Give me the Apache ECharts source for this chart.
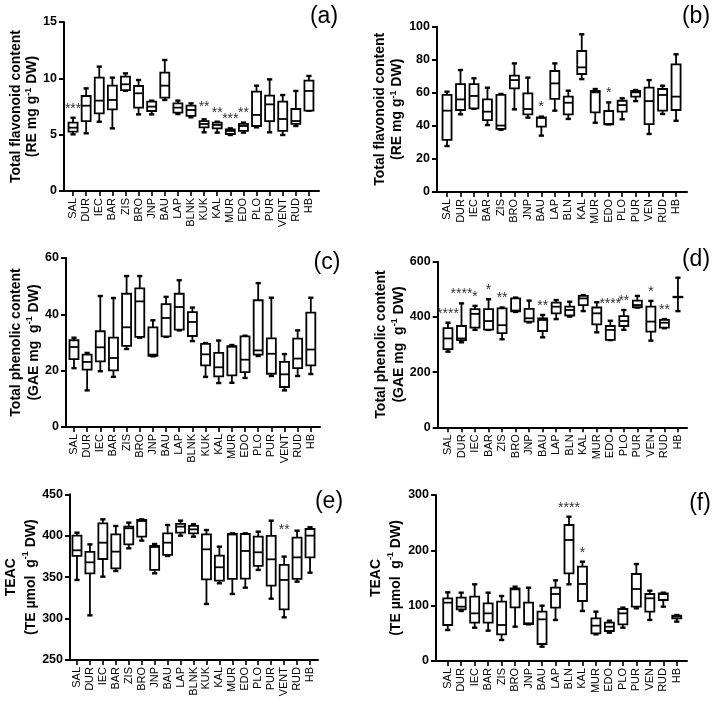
<!DOCTYPE html>
<html>
<head>
<meta charset="utf-8">
<script src="https://cdn.jsdelivr.net/npm/echarts@6/dist/echarts.min.js"></script>
<style>html,body{margin:0;padding:0;background:#fff}#c{width:717px;height:702px}</style>
</head>
<body>
<div id="c"></div>
<script>
// ---------- categories ----------
const catsLong = ['SAL','DUR','IEC','BAR','ZIS','BRO','JNP','BAU','LAP','BLNK','KUK','KAL','MUR','EDO','PLO','PUR','VENT','RUD','HB'];
const catsShort = ['SAL','DUR','IEC','BAR','ZIS','BRO','JNP','BAU','LAP','BLN','KAL','MUR','EDO','PLO','PUR','VEN','RUD','HB'];

// ---------- box values: [min, Q1, median, Q3, max] ----------
const boxA = [
  [5.03,5.27,5.62,6.07,6.5],[5.12,6.21,7.57,8.43,9.11],[6.15,6.89,8.02,10.06,11.04],[5.56,7.25,8.08,9.35,10.06],
  [8.9,8.96,9.47,10.15,10.44],[6.8,7.4,8.67,9.32,9.85],[6.8,7.1,7.49,7.93,8.02],[8.08,8.28,9.35,10.5,11.63],
  [6.83,6.95,7.4,7.78,8.02],[6.54,6.66,7.19,7.57,7.78],[5.21,5.65,5.95,6.21,6.36],[5.18,5.56,5.86,6.07,6.15],
  [4.97,5.06,5.33,5.47,5.56],[5.18,5.33,5.77,5.95,6.07],[5.65,5.77,6.75,8.82,9.35],[5.21,6.21,7.69,8.46,9.91],
  [4.97,5.33,6.39,7.93,8.52],[5.77,5.95,6.21,7.28,8.88],[7.13,7.13,8.88,9.79,10.21]
];
const sigA = ['***','','','','','','','','','','**','**','***','**','','','','',''];

const boxB = [
  [27.8,31.5,49.2,58.7,60.7],[47.0,49.6,56.0,65.3,73.8],[50.3,50.6,58.1,65.3,68.8],[40.5,43.5,48.6,56.0,63.1],
  [37.6,38.2,40.2,58.7,59.3],[50.0,62.7,67.7,70.4,77.8],[45.0,47.0,50.2,59.7,69.2],[34.1,39.5,44.8,45.2,45.6],
  [49.2,56.3,65.7,73.2,77.8],[44.2,47.0,54.0,57.7,61.3],[68.3,71.4,75.4,85.3,95.4],[41.9,48.2,60.3,61.1,62.3],
  [40.9,41.0,41.2,49.0,54.2],[44.0,48.6,52.6,55.2,56.7],[55.0,57.7,60.3,61.1,61.7],[35.1,41.1,55.0,63.1,67.7],
  [47.2,49.2,58.7,62.3,64.3],[43.1,49.6,57.7,77.2,83.3]
];
const sigB = ['','','','','','','','*','','','','','*','','','','',''];

const boxC = [
  [20.9,24.1,28.4,30.8,31.7],[13.0,20.4,23.1,25.7,26.3],[19.8,23.3,28.3,34.0,46.5],[17.8,20.1,24.5,31.7,45.8],
  [27.7,28.8,35.4,47.3,53.6],[31.7,32.0,44.6,49.2,53.6],[25.1,25.3,25.7,35.4,37.9],[32.0,32.2,38.7,43.6,46.2],
  [34.3,34.6,42.6,47.3,52.1],[30.5,32.3,37.3,40.8,42.4],[17.8,21.9,25.8,29.5,29.8],[15.6,18.0,21.2,26.3,30.7],
  [15.7,18.3,28.5,28.7,29.1],[17.4,19.5,23.9,32.2,32.4],[25.2,25.7,27.2,45.0,51.1],[18.1,18.9,26.0,31.5,45.9],
  [13.0,14.2,18.7,23.1,25.9],[18.1,20.9,24.3,31.4,34.3],[18.8,21.9,27.5,40.6,45.9]
];
const sigC = ['','','','','','','','','','','','','','','','','','',''];

const boxD = [
  [274,283,322,359,379],[308,316,322,367,449],[353,361,411,428,440],[353,354,385,428,464],
  [319,341,370,431,434],[418,420,423,467,470],[380,383,395,429,459],[326,349,389,395,407],
  [392,413,437,452,461],[401,405,425,437,455],[421,443,467,476,479],[344,373,413,434,453],
  [316,317,353,367,386],[353,367,385,403,425],[434,435,443,459,476],[314,347,383,437,458],
  [359,361,379,389,392],[421,471,472,473,542]
];
const sigD = ['****','****','*','*','**','','','**','','','','','****','**','','*','**',''];

const boxE = [
  [346.6,375.6,382.4,400.1,403.7],[303.9,354.6,367.9,380.4,389.6],[350.6,371.9,391.6,415.0,419.8],[357.4,360.7,380.8,401.7,411.8],
  [384.8,389.6,409.0,411.0,415.8],[394.1,398.9,417.8,419.0,419.8],[354.6,358.7,386.4,387.6,390.0],[375.6,376.8,391.6,402.9,413.0],
  [400.1,403.7,411.0,414.2,418.2],[398.9,402.9,407.7,411.8,413.8],[317.6,347.4,383.6,401.7,406.9],[342.6,345.8,361.9,376.0,386.8],
  [329.7,347.8,401.5,402.1,402.9],[337.3,348.2,381.6,402.1,402.9],[358.7,363.5,380.0,398.9,404.9],[324.0,339.7,371.5,399.7,418.2],
  [301.5,311.2,346.6,364.7,374.8],[344.6,347.8,373.9,397.7,406.1],[355.4,373.9,400.1,408.1,410.2]
];
const sigE = ['','','','','','','','','','','','','','','','','**','',''];

const boxF = [
  [56.0,65.1,105.4,113.3,124.1],[90.4,93.4,98.2,114.5,123.5],[60.2,69.3,86.1,116.3,138.6],[54.8,69.3,86.1,104.2,123.5],
  [38.0,48.2,65.1,107.2,117.5],[62.0,97.0,129.5,131.3,134.3],[66.3,66.8,68.1,105.4,132.5],[25.9,30.7,75.3,89.2,100.0],
  [74.1,96.4,121.1,132.5,145.8],[138.6,158.4,218.7,245.8,260.8],[90.4,108.4,139.2,170.5,179.5],[48.2,50.0,63.9,77.1,89.2],
  [51.2,54.2,62.0,69.3,72.9],[60.2,66.3,86.1,94.0,96.4],[95.2,98.2,130.1,157.2,175.3],[74.1,89.2,113.3,121.1,127.1],
  [98.2,110.2,121.0,122.3,123.5],[71.1,77.1,80.5,81.9,83.1]
];
const sigF = ['','','','','','','','','','****','*','','','','','','',''];

// ---------- axis settings ----------
const yMinA = 0, yMaxA = 15, yStepA = 5;
const yMinB = 0, yMaxB = 100, yStepB = 20;
const yMinC = 0, yMaxC = 60, yStepC = 20;
const yMinD = 0, yMaxD = 600, yStepD = 200;
const yMinE = 250, yMaxE = 450, yStepE = 50;
const yMinF = 0, yMaxF = 300, yStepF = 100;

const nameA = ['Total flavonoid content', '(RE mg g', '-1', ' DW)'];
const nameB = ['Total flavonoid content', '(RE mg g', '-1', ' DW)'];
const nameC = ['Total phenolic content', '(GAE mg  g', '-1', ' DW)'];
const nameD = ['Total phenolic content', '(GAE mg  g', '-1', ' DW)'];
const nameE = ['TEAC', '(TE \u00b5mol  g', '-1', ' DW)'];
const nameF = ['TEAC', '(TE \u00b5mol  g', '-1', ' DW)'];
const panelLabels = ['(a)','(b)','(c)','(d)','(e)','(f)'];

// ---------- layout (pixels) ----------
const FONT = '"Liberation Sans", Arial, Helvetica, sans-serif';
const panels = [
  {cats: catsLong,  box: boxA, sig: sigA, min: yMinA, max: yMaxA, step: yStepA, name: nameA, lift: {10: 3},
   axisX: 64, top: 22, height: 169, dataLeft: 66.5, dataWidth: 249, lineRight: 319, nameGap: 18, lh: 16, lab: [324, 17]},
  {cats: catsShort, box: boxB, sig: sigB, min: yMinB, max: yMaxB, step: yStepB, name: nameB, lift: {},
   axisX: 437, top: 26.7, height: 165.3, dataLeft: 440.3, dataWidth: 242.5, lineRight: 687, nameGap: 31, lh: 17, lab: [696, 17]},
  {cats: catsLong,  box: boxC, sig: sigC, min: yMinC, max: yMaxC, step: yStepC, name: nameC, lift: {},
   axisX: 66, top: 258, height: 169, dataLeft: 67.4, dataWidth: 250, lineRight: 320, nameGap: 20, lh: 18, lab: [327, 263]},
  {cats: catsShort, box: boxD, sig: sigD, min: yMinD, max: yMaxD, step: yStepD, name: nameD, lift: {12: 8},
   axisX: 437.7, top: 261.7, height: 165.6, dataLeft: 441.2, dataWidth: 243.5, lineRight: 687, nameGap: 29, lh: 17.5, lab: [696, 260]},
  {cats: catsLong,  box: boxE, sig: sigE, min: yMinE, max: yMaxE, step: yStepE, name: nameE, lift: {16: 17},
   axisX: 70, top: 494.3, height: 165.7, dataLeft: 70.5, dataWidth: 246, lineRight: 318, nameGap: 26, lh: 20, lab: [329, 502]},
  {cats: catsShort, box: boxF, sig: sigF, min: yMinF, max: yMaxF, step: yStepF, name: nameF, lift: {},
   axisX: 436, top: 495, height: 166, dataLeft: 441, dataWidth: 242.5, lineRight: 687, nameGap: 30, lh: 20, lab: [700, 504]}
];

function makeRender(sig, lift) {
  return function (params, api) {
    const i = api.value(0);
    const x = api.coord([i, api.value(1)])[0];
    const yy = k => api.coord([i, api.value(k)])[1];
    const yMin = yy(1), yQ1 = yy(2), yMed = yy(3), yQ3 = yy(4), yMax = yy(5);
    const hw = 4.5, cw = 2.6;
    const ls = {stroke: '#000', lineWidth: 1.8};
    const cs = {stroke: '#000', lineWidth: 2.4};
    const children = [
      {type: 'line', shape: {x1: x, y1: yMax, x2: x, y2: yQ3}, style: ls},
      {type: 'line', shape: {x1: x, y1: yQ1, x2: x, y2: yMin}, style: ls},
      {type: 'line', shape: {x1: x - cw, y1: yMax, x2: x + cw, y2: yMax}, style: cs},
      {type: 'line', shape: {x1: x - cw, y1: yMin, x2: x + cw, y2: yMin}, style: cs},
      {type: 'rect', shape: {x: x - hw, y: yQ3, width: 2 * hw, height: Math.max(yQ1 - yQ3, 0.5)},
       style: {fill: '#fff', stroke: '#000', lineWidth: 1.8}},
      {type: 'line', shape: {x1: x - hw, y1: yMed, x2: x + hw, y2: yMed}, style: ls}
    ];
    if (sig[i]) {
      children.push({type: 'text', x: x, y: yMax - 2 - (lift[i] || 0),
        style: {text: sig[i], fill: '#333', fontSize: 14, fontFamily: FONT, align: 'center', verticalAlign: 'bottom'}});
    }
    return {type: 'group', children: children};
  };
}

const grid = [], xAxis = [], yAxis = [], series = [], graphic = [];
panels.forEach((p, k) => {
  grid.push({left: p.dataLeft, top: p.top, width: p.dataWidth, height: p.height, outerBoundsMode: 'none', containLabel: false});
  grid.push({left: p.axisX, top: p.top, width: p.lineRight - p.axisX, height: p.height, outerBoundsMode: 'none', containLabel: false});
  const gi = 2 * k;
  xAxis.push({
    type: 'category', gridIndex: gi, data: p.cats, boundaryGap: true,
    axisLine: {show: false},
    axisTick: {show: true, alignWithLabel: true, length: 5, lineStyle: {color: '#000', width: 1.6}},
    axisLabel: {rotate: 90, interval: 0, fontSize: 11, color: '#000', margin: 7, fontFamily: FONT},
    splitLine: {show: false}
  });
  xAxis.push({
    type: 'value', gridIndex: gi + 1, min: 0, max: 1,
    axisLine: {show: true, lineStyle: {color: '#000', width: 2}},
    axisTick: {show: false}, axisLabel: {show: false}, splitLine: {show: false}
  });
  yAxis.push({
    type: 'value', gridIndex: gi, min: p.min, max: p.max, interval: p.step,
    offset: p.dataLeft - p.axisX,
    name: '{t|' + p.name[0] + '}\n{t|' + p.name[1] + '}{s|' + p.name[2] + '}{t|' + p.name[3] + '}',
    nameLocation: 'middle', nameRotate: 90, nameGap: p.nameGap,
    nameTextStyle: {
      rich: {
        t: {fontSize: 14, fontWeight: 'bold', fontFamily: FONT, color: '#000', lineHeight: p.lh},
        s: {fontSize: 9, fontWeight: 'bold', fontFamily: FONT, color: '#000', verticalAlign: 'top', lineHeight: p.lh}
      }
    },
    axisLine: {show: true, lineStyle: {color: '#000', width: 2}},
    axisTick: {show: true, length: 5, lineStyle: {color: '#000', width: 2}},
    axisLabel: {fontSize: 12.5, fontWeight: 'bold', color: '#000', margin: 7, fontFamily: FONT},
    splitLine: {show: false}
  });
  yAxis.push({type: 'value', gridIndex: gi + 1, min: p.min, max: p.max, show: false});
  series.push({
    type: 'custom', xAxisIndex: gi, yAxisIndex: gi,
    renderItem: makeRender(p.sig, p.lift),
    encode: {x: 0, y: [1, 2, 3, 4, 5]},
    data: p.box.map((d, i) => [i].concat(d)),
    clip: false, silent: true
  });
  graphic.push({type: 'text', x: p.lab[0], y: p.lab[1],
    style: {text: panelLabels[k], fontSize: 23, fontFamily: FONT, fill: '#000', align: 'center', verticalAlign: 'middle'}});
});

const chart = echarts.init(document.getElementById('c'), null, {renderer: 'canvas'});
chart.setOption({
  animation: false,
  backgroundColor: '#fff',
  grid: grid, xAxis: xAxis, yAxis: yAxis, series: series, graphic: graphic
});
</script>
</body>
</html>
